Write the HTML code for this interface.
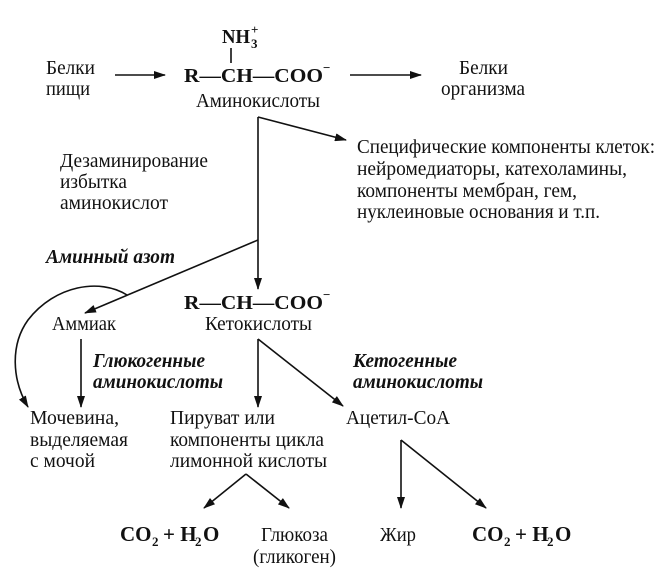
<!DOCTYPE html>
<html><head><meta charset="utf-8"><style>
html,body{margin:0;padding:0;background:#fff;}
svg{display:block;}
text{font-family:"Liberation Serif",serif;font-size:20px;fill:#111;}
.b{font-weight:bold;}
.bi{font-weight:bold;font-style:italic;}
.s{font-size:13px;font-weight:bold;}
.c{font-size:21px;font-weight:bold;}
</style></head><body>
<svg width="671" height="570" viewBox="0 0 671 570" xmlns="http://www.w3.org/2000/svg">
<defs>
<marker id="a" markerWidth="12" markerHeight="8" refX="11" refY="4" orient="auto" markerUnits="userSpaceOnUse">
<path d="M0,0 L12,4 L0,8 Z" fill="#111"/>
</marker>
</defs>
<g stroke="#111" stroke-width="1.6" fill="none">
<line x1="115" y1="75" x2="165" y2="75" marker-end="url(#a)"/>
<line x1="350" y1="75" x2="421" y2="75" marker-end="url(#a)"/>
<line x1="231" y1="48" x2="231" y2="63"/>
<line x1="258" y1="117" x2="258" y2="289" marker-end="url(#a)"/>
<line x1="258" y1="117" x2="346" y2="140" marker-end="url(#a)"/>
<line x1="258" y1="240" x2="85" y2="313" marker-end="url(#a)"/>
<path d="M127,295 C100,278 55,285 28,320 C10,345 12,380 28,407" marker-end="url(#a)"/>
<line x1="81" y1="339" x2="81" y2="407" marker-end="url(#a)"/>
<line x1="258" y1="339" x2="258" y2="407" marker-end="url(#a)"/>
<line x1="258" y1="339" x2="343" y2="406" marker-end="url(#a)"/>
<line x1="246" y1="474" x2="204" y2="508" marker-end="url(#a)"/>
<line x1="246" y1="474" x2="289" y2="508" marker-end="url(#a)"/>
<line x1="401" y1="440" x2="401" y2="508" marker-end="url(#a)"/>
<line x1="401" y1="440" x2="486" y2="508" marker-end="url(#a)"/>
</g>
<text x="222" y="43" class="b" textLength="28" lengthAdjust="spacingAndGlyphs">NH</text>
<text x="251" y="48" class="s">3</text>
<text x="251" y="34" class="s">+</text>
<text x="46" y="74" textLength="49" lengthAdjust="spacingAndGlyphs">Белки</text>
<text x="46" y="95" textLength="44" lengthAdjust="spacingAndGlyphs">пищи</text>
<text x="184" y="82" class="b" textLength="139" lengthAdjust="spacingAndGlyphs">R—CH—COO</text>
<text x="323" y="72" class="s">−</text>
<text x="196" y="107" textLength="124" lengthAdjust="spacingAndGlyphs">Аминокислоты</text>
<text x="459" y="74" textLength="49" lengthAdjust="spacingAndGlyphs">Белки</text>
<text x="441" y="95" textLength="84" lengthAdjust="spacingAndGlyphs">организма</text>
<text x="357" y="153" textLength="298" lengthAdjust="spacingAndGlyphs">Специфические компоненты клеток:</text>
<text x="357" y="175" textLength="270" lengthAdjust="spacingAndGlyphs">нейромедиаторы, катехоламины,</text>
<text x="357" y="197" textLength="220" lengthAdjust="spacingAndGlyphs">компоненты мембран, гем,</text>
<text x="357" y="218" textLength="243" lengthAdjust="spacingAndGlyphs">нуклеиновые основания и т.п.</text>
<text x="60" y="167" textLength="148" lengthAdjust="spacingAndGlyphs">Дезаминирование</text>
<text x="60" y="188" textLength="67" lengthAdjust="spacingAndGlyphs">избытка</text>
<text x="60" y="209" textLength="108" lengthAdjust="spacingAndGlyphs">аминокислот</text>
<text x="46" y="263" class="bi" textLength="129" lengthAdjust="spacingAndGlyphs">Аминный азот</text>
<text x="52" y="330" textLength="64" lengthAdjust="spacingAndGlyphs">Аммиак</text>
<text x="184" y="309" class="b" textLength="139" lengthAdjust="spacingAndGlyphs">R—CH—COO</text>
<text x="323" y="299" class="s">−</text>
<text x="205" y="330" textLength="107" lengthAdjust="spacingAndGlyphs">Кетокислоты</text>
<text x="93" y="367" class="bi" textLength="112" lengthAdjust="spacingAndGlyphs">Глюкогенные</text>
<text x="93" y="388" class="bi" textLength="130" lengthAdjust="spacingAndGlyphs">аминокислоты</text>
<text x="353" y="367" class="bi" textLength="104" lengthAdjust="spacingAndGlyphs">Кетогенные</text>
<text x="353" y="388" class="bi" textLength="130" lengthAdjust="spacingAndGlyphs">аминокислоты</text>
<text x="30" y="424" textLength="89" lengthAdjust="spacingAndGlyphs">Мочевина,</text>
<text x="30" y="446" textLength="98" lengthAdjust="spacingAndGlyphs">выделяемая</text>
<text x="30" y="467" textLength="65" lengthAdjust="spacingAndGlyphs">с мочой</text>
<text x="170" y="424" textLength="105" lengthAdjust="spacingAndGlyphs">Пируват или</text>
<text x="170" y="446" textLength="154" lengthAdjust="spacingAndGlyphs">компоненты цикла</text>
<text x="170" y="467" textLength="157" lengthAdjust="spacingAndGlyphs">лимонной кислоты</text>
<text x="346" y="424" textLength="104" lengthAdjust="spacingAndGlyphs">Ацетил-CoA</text>
<text x="120" y="541" class="c">CO</text>
<text x="152" y="546" class="s">2</text>
<text x="163" y="541" class="c">+ H</text>
<text x="195" y="546" class="s">2</text>
<text x="203" y="541" class="c">O</text>
<text x="261" y="541" textLength="67" lengthAdjust="spacingAndGlyphs">Глюкоза</text>
<text x="253" y="563" textLength="83" lengthAdjust="spacingAndGlyphs">(гликоген)</text>
<text x="380" y="541" textLength="36" lengthAdjust="spacingAndGlyphs">Жир</text>
<text x="472" y="541" class="c">CO</text>
<text x="504" y="546" class="s">2</text>
<text x="515" y="541" class="c">+ H</text>
<text x="547" y="546" class="s">2</text>
<text x="555" y="541" class="c">O</text>
</svg>
</body></html>
